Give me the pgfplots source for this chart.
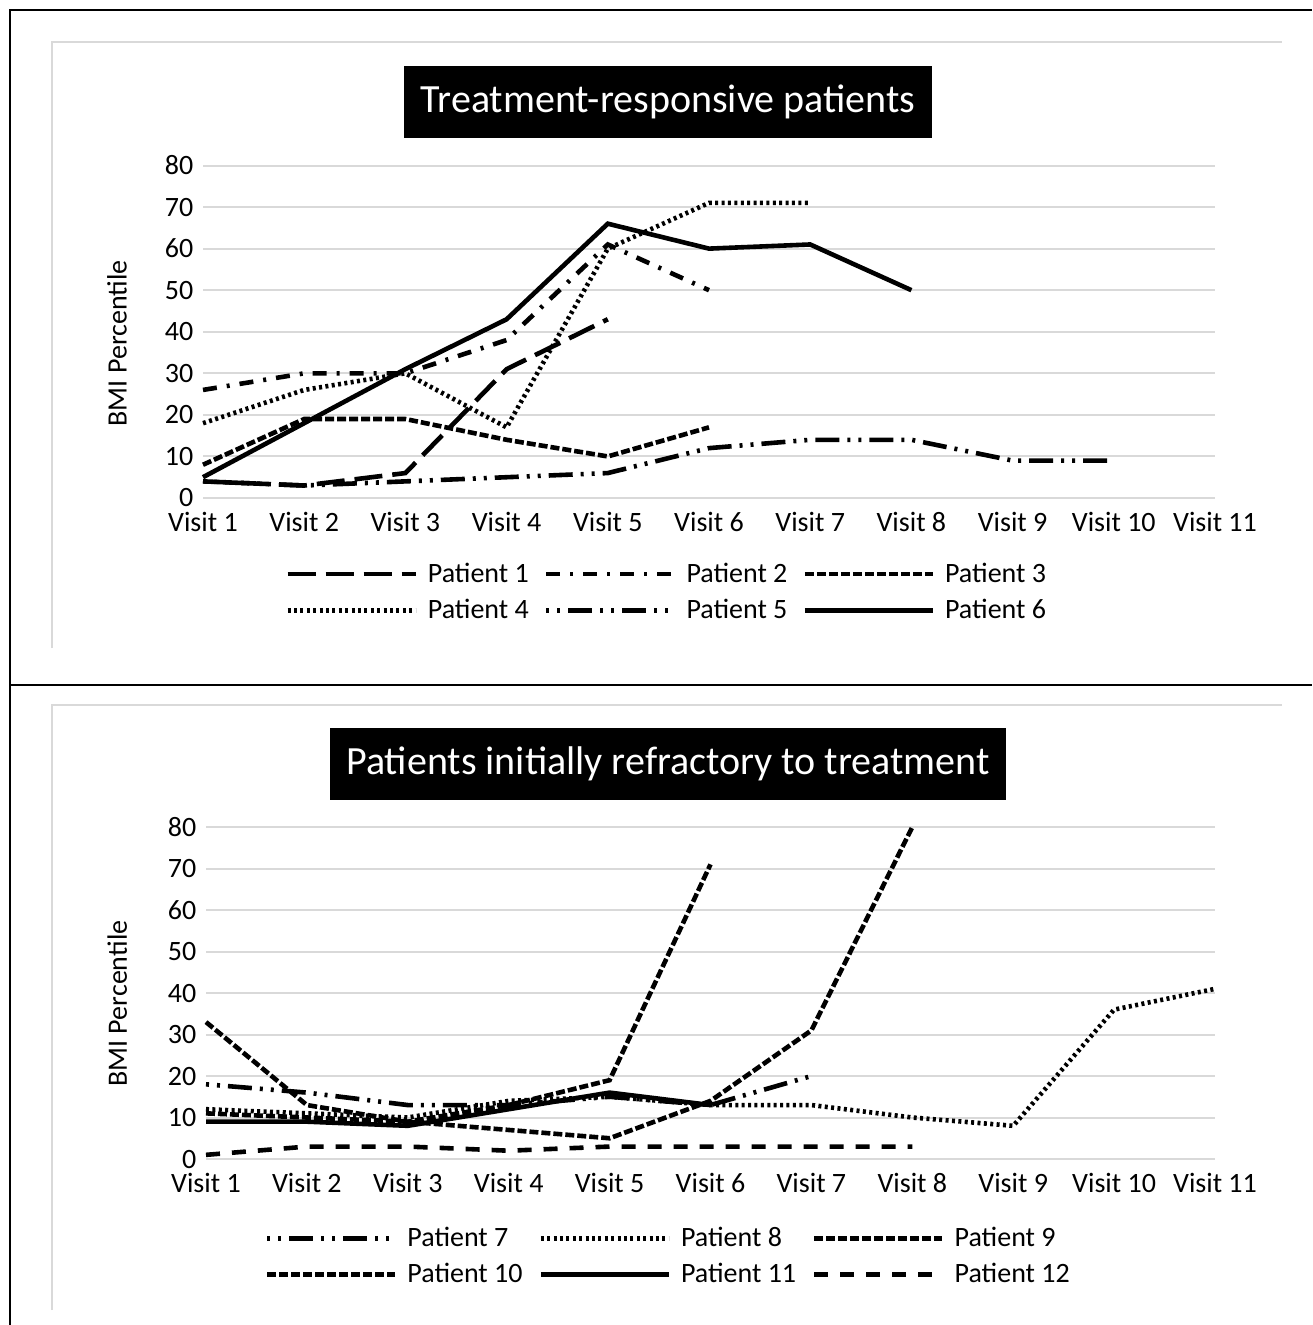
\documentclass[border=0pt]{standalone}
\usepackage{fontspec}
\setmainfont{Carlito}
\usepackage{pgfplots}
\pgfplotsset{compat=1.18}

\pgfplotsset{
  bmistyle/.style={
    scale only axis,
    xmin=1, xmax=11, ymin=0, ymax=80,
    xtick={1,2,...,11},
    xticklabels={Visit 1,Visit 2,Visit 3,Visit 4,Visit 5,Visit 6,Visit 7,Visit 8,Visit 9,Visit 10,Visit 11},
    ytick={0,10,...,80},
    ymajorgrids, xmajorgrids=false,
    grid style={draw=black!15, line width=1pt},
    axis line style={draw=none},
    tick style={draw=none},
    major tick length=0pt,
    tick label style={font=\fontsize{14}{16}\selectfont, inner sep=1pt},
    xticklabel style={yshift=-5.8pt},
    yticklabel style={xshift=-3.7pt},
    /pgf/number format/assume math mode=true,
    clip=false,
    ylabel={BMI Percentile},
    every axis y label/.style={rotate=90, anchor=center, font=\fontsize{14}{16}\selectfont},
    legend columns=3,
    legend image code/.code={\draw[##1] (0pt,0pt) -- (64pt,0pt);},
    legend style={draw=none, fill=none, anchor=north west,
      font=\fontsize{14}{16}\selectfont,
      row sep=3pt,
      /tikz/every odd column/.style={column sep=3pt},
      /tikz/every even column/.style={column sep=4pt}},
    every axis plot/.append style={line width=2.3pt, black},
  },
  pA/.style={dash pattern=on 14pt off 5pt},
  pB/.style={dash pattern=on 7pt off 5pt on 1.5pt off 5pt},
  pC/.style={dash pattern=on 4.5pt off 1.5pt},
  pD/.style={dash pattern=on 1.5pt off 1.7pt},
  pE/.style={dash pattern=on 12pt off 4pt on 1.5pt off 4pt on 1.5pt off 4pt, dash phase=16pt},
  pF/.style={solid},
  pG/.style={dash pattern=on 7pt off 6pt},
}

\begin{document}
\begin{tikzpicture}
\path[use as bounding box] (0pt,0pt) rectangle (656pt,-662.5pt);
% frames
\draw[line width=1pt] (5pt,-662.5pt) -- (5pt,-5pt) -- (656pt,-5pt);
\draw[line width=1pt] (5pt,-342.5pt) -- (656pt,-342.5pt);
\draw[black!15, line width=1.2pt] (26pt,-324pt) -- (26pt,-21pt) -- (641pt,-21pt);
\draw[black!15, line width=1.2pt] (26pt,-655pt) -- (26pt,-352.5pt) -- (641pt,-352.5pt);

% top chart
\begin{axis}[bmistyle,
  at={(101.5pt,-249pt)}, anchor=south west,
  width=506pt, height=166.25pt,
  every axis y label/.append style={at={(rel axis cs:-0.085,0.465)}},
  legend style={at={(rel axis cs:0.075,-0.17)}},
]
\addplot[pA] coordinates {(1,4)(2,3)(3,6)(4,31)(5,43)};
\addlegendentry{\makebox[52pt][l]{Patient 1}}
\addplot[pB] coordinates {(1,26)(2,30)(3,30)(4,38)(5,61)(6,50)};
\addlegendentry{\makebox[52pt][l]{Patient 2}}
\addplot[pC] coordinates {(1,8)(2,19)(3,19)(4,14)(5,10)(6,17)};
\addlegendentry{\makebox[52pt][l]{Patient 3}}
\addplot[pD] coordinates {(1,18)(2,26)(3,30)(4,17)(5,60)(6,71)(7,71)};
\addlegendentry{\makebox[52pt][l]{Patient 4}}
\addplot[pE] coordinates {(1,4)(2,3)(3,4)(4,5)(5,6)(6,12)(7,14)(8,14)(9,9)(10,9)};
\addlegendentry{\makebox[52pt][l]{Patient 5}}
\addplot[pF] coordinates {(1,5)(2,18)(3,31)(4,43)(5,66)(6,60)(7,61)(8,50)};
\addlegendentry{\makebox[52pt][l]{Patient 6}}
\end{axis}

% bottom chart
\begin{axis}[bmistyle,
  at={(103pt,-579.5pt)}, anchor=south west,
  width=504.5pt, height=166pt,
  every axis y label/.append style={at={(rel axis cs:-0.088,0.468)}},
  legend style={at={(rel axis cs:0.052,-0.18)}},
]
\addplot[pE] coordinates {(1,18)(2,16)(3,13)(4,13)(5,15)(6,13)(7,20)};
\addlegendentry{\makebox[59.5pt][l]{Patient 7}}
\addplot[pD] coordinates {(1,12)(2,11)(3,10)(4,14)(5,15)(6,13)(7,13)(8,10)(9,8)(10,36)(11,41)};
\addlegendentry{\makebox[59.5pt][l]{Patient 8}}
\addplot[pC] coordinates {(1,33)(2,13)(3,9)(4,13)(5,19)(6,71)};
\addlegendentry{\makebox[59.5pt][l]{Patient 9}}
\addplot[pC] coordinates {(1,11)(2,10)(3,9)(4,7)(5,5)(6,14)(7,31)(8,80)};
\addlegendentry{\makebox[59.5pt][l]{Patient 10}}
\addplot[pF] coordinates {(1,9)(2,9)(3,8)(4,12)(5,16)(6,13)};
\addlegendentry{\makebox[59.5pt][l]{Patient 11}}
\addplot[pG] coordinates {(1,1)(2,3)(3,3)(4,2)(5,3)(6,3)(7,3)(8,3)};
\addlegendentry{\makebox[59.5pt][l]{Patient 12}}
\end{axis}

% titles
\node[fill=black, text=white, minimum width=264pt, minimum height=36pt, inner sep=0pt,
  font=\fontsize{20}{24}\selectfont] at (334pt,-51pt) {Treatment-responsive patients};
\node[fill=black, text=white, minimum width=338pt, minimum height=36pt, inner sep=0pt,
  font=\fontsize{20}{24}\selectfont] at (334pt,-382pt) {Patients initially refractory to treatment};
\end{tikzpicture}
\end{document}
